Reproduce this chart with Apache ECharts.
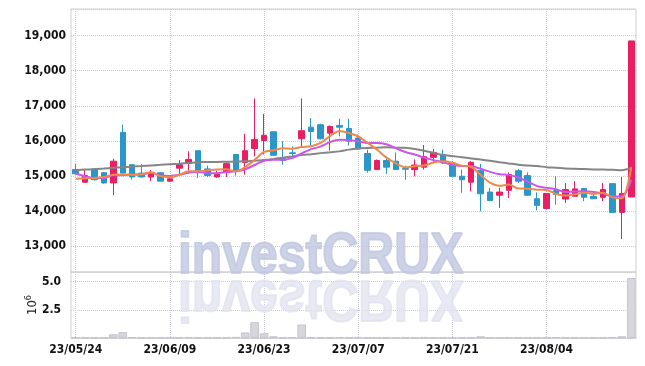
<!DOCTYPE html>
<html>
<head>
<meta charset="utf-8">
<title>investCRUX</title>
<script src="https://cdn.jsdelivr.net/npm/echarts@6/dist/echarts.min.js"></script>
<style>
	html, body {margin: 0; padding: 0; background: #fff;}
	#stockChart {width: 645px; height: 366px;}
</style>
</head>
<body>
<div id="stockChart"></div>
<script>
//거래일
var dates = ['23/05/24','23/05/25','23/05/26','23/05/30','23/05/31','23/06/01','23/06/02','23/06/05','23/06/07','23/06/08',
	'23/06/09','23/06/12','23/06/13','23/06/14','23/06/15','23/06/16','23/06/19','23/06/20','23/06/21','23/06/22',
	'23/06/23','23/06/26','23/06/27','23/06/28','23/06/29','23/06/30','23/07/03','23/07/04','23/07/05','23/07/06',
	'23/07/07','23/07/10','23/07/11','23/07/12','23/07/13','23/07/14','23/07/17','23/07/18','23/07/19','23/07/20',
	'23/07/21','23/07/24','23/07/25','23/07/26','23/07/27','23/07/28','23/07/31','23/08/01','23/08/02','23/08/03',
	'23/08/04','23/08/07','23/08/08','23/08/09','23/08/10','23/08/11','23/08/14','23/08/16','23/08/17','23/08/18'];
//시가, 종가, 저가, 고가
var opens = [15180,14820,15200,15090,14800,16240,15320,15080,14970,15090,
	14850,15220,15360,15720,15200,14970,15100,15610,15380,15780,
	16010,16260,15490,15660,16060,16390,16460,16220,16440,16350,
	16080,15640,15180,15440,15420,15210,15180,15250,15530,15610,
	15370,14990,14820,15150,14540,14450,14590,15150,15010,14350,
	14070,14580,14340,14420,14640,14420,14390,14780,13960,14400];
var closes = [15060,15010,14890,14800,15420,15080,14970,14970,15100,14850,
	14920,15320,15470,15090,15010,15040,15350,15150,15720,16040,
	16160,15590,15440,15640,16290,16270,16060,16410,16390,15990,
	15770,15160,15440,15250,15180,15190,15310,15550,15670,15370,
	14990,14890,15390,14490,14300,14540,15040,14850,14450,14160,
	14500,14470,14610,14630,14390,14350,14610,13960,14500,18850];
var lows = [15040,14810,14870,14780,14450,15070,14890,14960,14850,14850,
	14840,15060,15150,14940,14970,14950,14970,15010,15040,15560,
	15610,15580,15320,15490,15840,15870,16040,15720,16130,15860,
	15760,15090,15170,15060,15170,14890,14990,15180,15370,15340,
	14980,14520,14560,13990,14280,14090,14370,14800,14440,14020,
	14050,14180,14230,14410,14280,14350,14280,13950,13200,14400];
var highs = [15340,15170,15210,15110,15490,16460,15320,15340,15170,15090,
	14930,15450,15700,15720,15290,15150,15420,15620,16200,17210,
	16770,16260,15990,15840,17210,16650,16490,16440,16630,16630,
	16180,15750,15470,15560,15670,15290,15470,15880,15770,15750,
	15420,15180,15420,15340,14660,14660,15100,15200,15100,14530,
	14510,14990,14800,14850,14650,14560,14800,14780,14970,18850];
//이동평균
var ma5 = [14920,14930,14940,14970,15036,15040,15032,15048,15108,14994,
	14962,15032,15132,15130,15162,15186,15192,15128,15254,15460,
	15684,15732,15790,15774,15824,15846,15940,16134,16284,16224,
	16124,15944,15750,15522,15360,15244,15274,15296,15380,15418,
	15378,15294,15262,15026,14812,14722,14752,14644,14636,14608,
	14600,14486,14438,14474,14520,14490,14518,14388,14362,15254];
var ma10 = [15070,14990,14940,14940,15020,15020,15040,15040,15090,15015,
	15001,15032,15090,15119,15078,15074,15112,15130,15192,15311,
	15435,15462,15459,15514,15642,15765,15836,15962,16029,16024,
	15985,15942,15942,15903,15792,15684,15609,15523,15451,15389,
	15311,15284,15279,15203,15115,15050,15023,14953,14831,14710,
	14661,14619,14541,14555,14564,14545,14502,14413,14418,14887];
var ma60 = [15160,15180,15190,15210,15230,15245,15265,15280,15300,15315,
	15335,15350,15370,15390,15395,15400,15405,15410,15415,15435,
	15455,15485,15520,15555,15595,15620,15650,15675,15700,15750,
	15780,15795,15805,15815,15805,15800,15770,15720,15655,15595,
	15565,15535,15500,15465,15430,15390,15355,15320,15295,15280,
	15250,15235,15215,15205,15195,15185,15180,15175,15165,15225];
//거래량
var volumes = [80000,80000,30000,30000,330000,520000,80000,30000,30000,30000,
	30000,80000,80000,80000,30000,80000,80000,100000,490000,1400000,
	420000,150000,80000,80000,1200000,80000,80000,80000,80000,80000,
	80000,80000,30000,80000,30000,80000,30000,80000,30000,30000,
	80000,80000,80000,150000,30000,30000,30000,30000,30000,30000,
	30000,80000,80000,30000,30000,30000,30000,80000,150000,5330000];

var labelFont = '"DejaVu Sans Condensed", "Liberation Sans Narrow", "Liberation Sans", sans-serif';
var markFont = 'bold 58px "Liberation Sans", Arial, sans-serif';
var gridLine = {show: true, alignWithLabel: true, interval: 9, lineStyle: {color: '#c9cbdb', type: 'dotted'}};

initStockChart();

/*
 * 캔들 + 거래량 차트
 */
function initStockChart(){
	var stockChart = echarts.init(document.getElementById('stockChart'));
	var candles = [];
	for (var i = 0; i < dates.length; i++) {
		candles.push([opens[i], closes[i], lows[i], highs[i]]);
	}
	var option = {
		animation: false,
		graphic: [
			{
				type: 'text',
				x: 178,
				y: 277,
				scaleX: 0.86,
				z: 1,
				style: {
					text: 'investCRUX',
					x: 0,
					y: -20,
					verticalAlign: 'middle',
					font: markFont,
					fill: 'rgba(192,199,225,0.8)',
					stroke: 'rgba(192,199,225,0.8)',
					lineWidth: 2
				}
			},
			{
				type: 'text',
				x: 178,
				y: 277,
				scaleX: 0.86,
				scaleY: -1,
				z: 1,
				style: {
					text: 'investCRUX',
					x: 0,
					y: -20,
					verticalAlign: 'middle',
					font: markFont,
					fill: 'rgba(224,226,237,0.75)',
					stroke: 'rgba(224,226,237,0.75)',
					lineWidth: 2
				}
			}
		],
		grid: [
			{left: 71, right: 9, top: 9, height: 263, show: true, borderColor: '#cfcfd4', borderWidth: 1},
			{left: 71, right: 9, top: 272, height: 66, show: true, borderColor: '#cfcfd4', borderWidth: 1}
		],
		xAxis: [
			{
				type: 'category',
				gridIndex: 0,
				data: dates,
				boundaryGap: true,
				axisLine: {show: false},
				axisTick: {show: false},
				axisLabel: {show: false, interval: 9},
				splitLine: gridLine
			},
			{
				type: 'category',
				gridIndex: 1,
				data: dates,
				boundaryGap: true,
				axisLine: {lineStyle: {color: '#cfcfd4'}},
				axisTick: {show: false},
				axisLabel: {interval: 9, color: '#111', fontFamily: labelFont, fontWeight: 'bold', fontSize: 12, margin: 6},
				splitLine: gridLine
			}
		],
		yAxis: [
			{
				type: 'value',
				gridIndex: 0,
				min: 12260,
				max: 19760,
				splitNumber: 7,
				axisLine: {show: false},
				axisTick: {show: false},
				axisLabel: {
					color: '#111', fontFamily: labelFont, fontWeight: 'bold', fontSize: 12, margin: 5,
					showMinLabel: false, showMaxLabel: false,
					formatter: function (v) { return echarts.format.addCommas(v); }
				},
				splitLine: {lineStyle: {color: '#c9cbdb', type: 'dotted'}}
			},
			{
				type: 'value',
				gridIndex: 1,
				min: 0,
				max: 5860000,
				interval: 2500000,
				name: '{a|10}{b|6}',
				nameLocation: 'middle',
				nameRotate: 90,
				nameGap: 29,
				nameMoveOverlap: false,
				nameTextStyle: {
					rich: {
						a: {fontFamily: labelFont, fontSize: 13, color: '#222'},
						b: {fontFamily: labelFont, fontSize: 9, color: '#222', padding: [0, 0, 9, 0]}
					}
				},
				axisLine: {show: false},
				axisTick: {show: false},
				axisLabel: {
					color: '#111', fontFamily: labelFont, fontWeight: 'bold', fontSize: 12, margin: 10,
					showMinLabel: false, showMaxLabel: false,
					formatter: function (v) { return (v / 1000000).toFixed(1); }
				},
				splitLine: {lineStyle: {color: '#c9cbdb', type: 'dotted'}}
			}
		],
		series: [
			{
				name: 'price',
				type: 'candlestick',
				xAxisIndex: 0,
				yAxisIndex: 0,
				barWidth: 6,
				itemStyle: {
					color: '#e91e63',
					color0: '#2b96c8',
					borderColor: '#e91e63',
					borderColor0: '#2b96c8',
					borderWidth: 1
				},
				data: candles
			},
			{
				name: 'MA60',
				type: 'line',
				data: ma60,
				symbol: 'none',
				smooth: 0.3,
				lineStyle: {color: '#858585', width: 2}
			},
			{
				name: 'MA10',
				type: 'line',
				data: ma10,
				symbol: 'none',
				smooth: 0.3,
				lineStyle: {color: '#cc55ec', width: 2}
			},
			{
				name: 'MA5',
				type: 'line',
				data: ma5,
				symbol: 'none',
				smooth: 0.3,
				lineStyle: {color: '#f0884a', width: 2}
			},
			{
				name: 'volume',
				type: 'bar',
				xAxisIndex: 1,
				yAxisIndex: 1,
				barWidth: '92%',
				itemStyle: {color: '#d6d6dc', borderColor: '#c4c4cc', borderWidth: 1},
				data: volumes
			}
		]
	};
	stockChart.setOption(option);
}
</script>
</body>
</html>
